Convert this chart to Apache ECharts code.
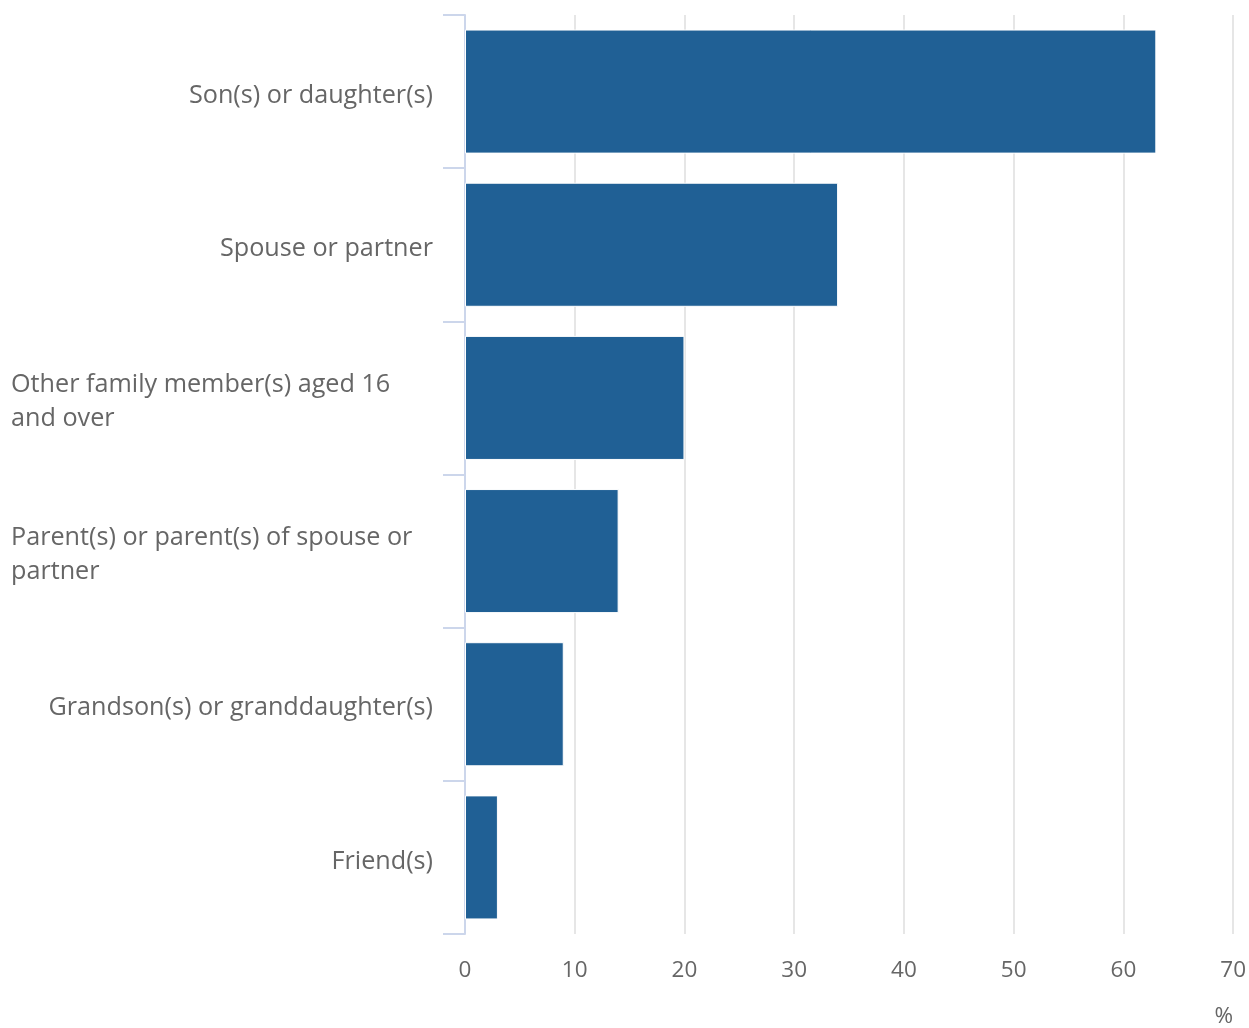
<!DOCTYPE html>
<html>
<head>
<meta charset="utf-8">
<style>html,body{margin:0;padding:0;background:#fff;}#c{width:1249px;height:1028px;}</style>
<script src="https://cdn.jsdelivr.net/npm/echarts@6/dist/echarts.min.js"></script>
</head>
<body>
<div id="c"></div>
<script>
const categories = [
  "Son(s) or daughter(s)",
  "Spouse or partner",
  "Other family member(s) aged 16 and over",
  "Parent(s) or parent(s) of spouse or partner",
  "Grandson(s) or granddaughter(s)",
  "Friend(s)"
];
const values = [63, 34, 20, 14, 9, 3];
const xTicks = [0, 10, 20, 30, 40, 50, 60, 70];
const unitLabel = "%";

const FONT = "'Open Sans', sans-serif";
const FS = 25.2;
const XFS = 22.5;
const BOXW = 422;
const cv = document.createElement('canvas').getContext('2d');
cv.font = FS + "px 'Open Sans'";
function wrap(t) {
  const words = t.split(' ');
  const lines = [];
  let cur = '';
  for (const w of words) {
    const test = cur ? cur + ' ' + w : w;
    if (cv.measureText(test).width > BOXW - 6 && cur) { lines.push(cur); cur = w; }
    else cur = test;
  }
  if (cur) lines.push(cur);
  return lines;
}

const chart = echarts.init(document.getElementById('c'), null, {renderer: 'canvas'});
chart.setOption({
  animation: false,
  grid: {left: 465, right: 15, top: 15, bottom: 91, containLabel: false},
  xAxis: {
    type: 'value',
    min: xTicks[0], max: xTicks[xTicks.length - 1], interval: 10,
    axisLine: {show: false},
    axisTick: {show: false},
    splitLine: {show: true, lineStyle: {color: '#e6e6e6', width: 2}},
    axisLabel: {color: '#666666', fontFamily: FONT, fontSize: XFS, margin: 25},
    name: unitLabel,
    nameLocation: 'end',
    nameGap: 0,
    nameTextStyle: {color: '#666666', fontFamily: FONT, fontSize: XFS, align: 'right', verticalAlign: 'top', padding: [71, 0, 0, 0]}
  },
  yAxis: {
    type: 'category',
    inverse: true,
    data: categories,
    axisLine: {show: true, lineStyle: {color: '#ccd6eb', width: 2}},
    axisTick: {show: true, length: 22, lineStyle: {color: '#ccd6eb', width: 2}},
    splitLine: {show: false},
    axisLabel: {
      margin: 32,
      color: '#666666', fontFamily: FONT, fontSize: FS, lineHeight: 34,
      padding: [8, 0, 0, 0],
      formatter: function (v) {
        const ls = wrap(v);
        if (ls.length === 1) return '{r|' + v + '}';
        return ls.map(l => '{l|' + l + '}').join('\n');
      },
      rich: {
        r: {width: BOXW, align: 'right', color: '#666666', fontFamily: FONT, fontSize: FS, lineHeight: 34},
        l: {width: BOXW, align: 'left', color: '#666666', fontFamily: FONT, fontSize: FS, lineHeight: 34}
      }
    }
  },
  series: [{
    type: 'bar',
    data: values,
    barCategoryGap: '19%',
    itemStyle: {color: '#206095', borderColor: '#ffffff', borderWidth: 1}
  }]
});
</script>
</body>
</html>
